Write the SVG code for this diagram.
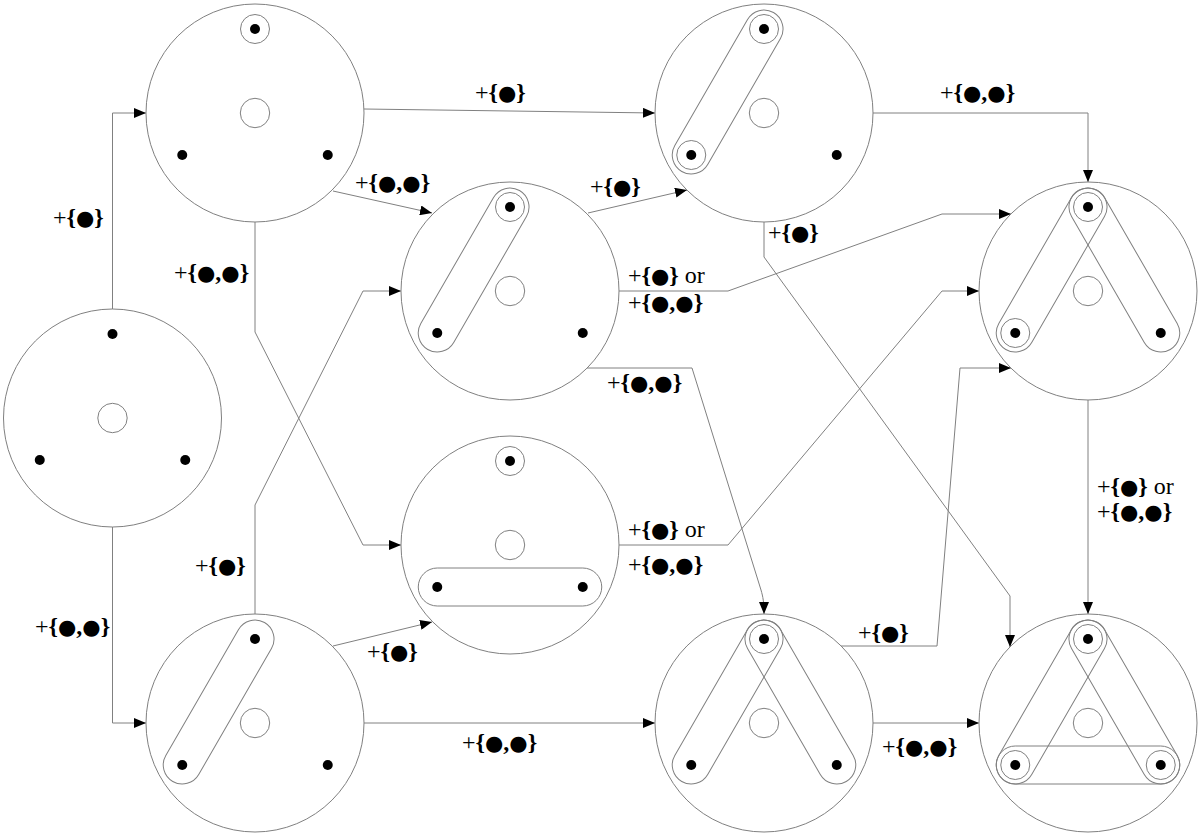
<svg xmlns="http://www.w3.org/2000/svg" xmlns:xlink="http://www.w3.org/1999/xlink" width="1200" height="836" viewBox="0 0 1200 836">
<style>
.n{fill:none;stroke:#808080;stroke-width:1}
.dot{fill:#000}
.c{fill:none;stroke:#808080;stroke-width:1;marker-end:url(#ah)}
.lb{font-family:"Liberation Serif",serif;font-size:24px;fill:#000}
.b{font-weight:bold}
.d{font-family:"DejaVu Sans",sans-serif;font-size:21px}
</style>
<defs>
<marker id="ah" viewBox="0 0 12 10" refX="12" refY="5" markerWidth="12" markerHeight="10" markerUnits="userSpaceOnUse" orient="auto"><path d="M0,0 L12,5 L0,10 z" fill="#000"/></marker>
<g id="base">
<circle class="n" r="109"/>
<circle class="n" r="14.7"/>
<circle class="dot" cx="0" cy="-84" r="5"/>
<circle class="dot" cx="-72.75" cy="42" r="5"/>
<circle class="dot" cx="72.75" cy="42" r="5"/>
</g>
<circle id="ringT" class="n" cx="0" cy="-84" r="14.5"/>
<circle id="ringL" class="n" cx="-72.75" cy="42" r="14.5"/>
<circle id="ringR" class="n" cx="72.75" cy="42" r="14.5"/>
<rect id="capLT" class="n" x="-91.75" y="-19" width="183.5" height="38" rx="19" transform="translate(-36.37,-21) rotate(-60)"/>
<rect id="capTR" class="n" x="-91.75" y="-19" width="183.5" height="38" rx="19" transform="translate(36.37,-21) rotate(60)"/>
<rect id="capLR" class="n" x="-91.75" y="-19" width="183.5" height="38" rx="19" transform="translate(0,42)"/>
</defs>
<rect width="1200" height="836" fill="#fff"/>

<g id="connectors">
<path class="c" d="M112.5,309 V113 H146"/>
<path class="c" d="M112.5,527 V723 H146"/>
<path class="c" d="M364,109 L655,113"/>
<path class="c" d="M333,191 L432,213"/>
<path class="c" d="M255,222 V332 L363,545 H401"/>
<path class="c" d="M255,614 V505 L363,291 H401"/>
<path class="c" d="M333,646 L432,622"/>
<path class="c" d="M364,723 H655"/>
<path class="c" d="M588,213 L687,190"/>
<path class="c" d="M619,291 H728 L942,214 H1011"/>
<path class="c" d="M587,368 H692 L761,590 C763,597 764,602 764,614"/>
<path class="c" d="M619,545 H728 L942,291 H979"/>
<path class="c" d="M873,113 H1088 V182"/>
<path class="c" d="M764,222 V257 L1010,596 V647"/>
<path class="c" d="M841,646 H937 L960,368 H1011"/>
<path class="c" d="M873,723 H979"/>
<path class="c" d="M1088,400 V614"/>
</g>

<g id="labels">
<text class="lb" x="53" y="225">+<tspan class="b">{</tspan><tspan class="d">●</tspan><tspan class="b">}</tspan></text>
<text class="lb" x="35" y="634">+<tspan class="b">{</tspan><tspan class="d">●</tspan><tspan class="b">,</tspan><tspan class="d">●</tspan><tspan class="b">}</tspan></text>
<text class="lb" x="475" y="100">+<tspan class="b">{</tspan><tspan class="d">●</tspan><tspan class="b">}</tspan></text>
<text class="lb" x="355" y="190">+<tspan class="b">{</tspan><tspan class="d">●</tspan><tspan class="b">,</tspan><tspan class="d">●</tspan><tspan class="b">}</tspan></text>
<text class="lb" x="174" y="280">+<tspan class="b">{</tspan><tspan class="d">●</tspan><tspan class="b">,</tspan><tspan class="d">●</tspan><tspan class="b">}</tspan></text>
<text class="lb" x="195" y="573">+<tspan class="b">{</tspan><tspan class="d">●</tspan><tspan class="b">}</tspan></text>
<text class="lb" x="367" y="659">+<tspan class="b">{</tspan><tspan class="d">●</tspan><tspan class="b">}</tspan></text>
<text class="lb" x="462" y="750">+<tspan class="b">{</tspan><tspan class="d">●</tspan><tspan class="b">,</tspan><tspan class="d">●</tspan><tspan class="b">}</tspan></text>
<text class="lb" x="590" y="194">+<tspan class="b">{</tspan><tspan class="d">●</tspan><tspan class="b">}</tspan></text>
<text class="lb" x="628" y="283">+<tspan class="b">{</tspan><tspan class="d">●</tspan><tspan class="b">}</tspan> or</text>
<text class="lb" x="628" y="310">+<tspan class="b">{</tspan><tspan class="d">●</tspan><tspan class="b">,</tspan><tspan class="d">●</tspan><tspan class="b">}</tspan></text>
<text class="lb" x="607" y="390">+<tspan class="b">{</tspan><tspan class="d">●</tspan><tspan class="b">,</tspan><tspan class="d">●</tspan><tspan class="b">}</tspan></text>
<text class="lb" x="628" y="537">+<tspan class="b">{</tspan><tspan class="d">●</tspan><tspan class="b">}</tspan> or</text>
<text class="lb" x="628" y="572">+<tspan class="b">{</tspan><tspan class="d">●</tspan><tspan class="b">,</tspan><tspan class="d">●</tspan><tspan class="b">}</tspan></text>
<text class="lb" x="940" y="100">+<tspan class="b">{</tspan><tspan class="d">●</tspan><tspan class="b">,</tspan><tspan class="d">●</tspan><tspan class="b">}</tspan></text>
<text class="lb" x="768" y="240">+<tspan class="b">{</tspan><tspan class="d">●</tspan><tspan class="b">}</tspan></text>
<text class="lb" x="858" y="640">+<tspan class="b">{</tspan><tspan class="d">●</tspan><tspan class="b">}</tspan></text>
<text class="lb" x="882" y="754">+<tspan class="b">{</tspan><tspan class="d">●</tspan><tspan class="b">,</tspan><tspan class="d">●</tspan><tspan class="b">}</tspan></text>
<text class="lb" x="1097" y="494">+<tspan class="b">{</tspan><tspan class="d">●</tspan><tspan class="b">}</tspan> or</text>
<text class="lb" x="1097" y="519">+<tspan class="b">{</tspan><tspan class="d">●</tspan><tspan class="b">,</tspan><tspan class="d">●</tspan><tspan class="b">}</tspan></text>
</g>

<g id="node-A" transform="translate(112.5,418)"><use xlink:href="#base"/></g>
<g id="node-B" transform="translate(255,113)"><use xlink:href="#base"/><use xlink:href="#ringT"/></g>
<g id="node-C" transform="translate(255,723)"><use xlink:href="#base"/><use xlink:href="#capLT"/></g>
<g id="node-D" transform="translate(510,291)"><use xlink:href="#base"/><use xlink:href="#capLT"/><use xlink:href="#ringT"/></g>
<g id="node-E" transform="translate(510,545)"><use xlink:href="#base"/><use xlink:href="#ringT"/><use xlink:href="#capLR"/></g>
<g id="node-F" transform="translate(764,113)"><use xlink:href="#base"/><use xlink:href="#capLT"/><use xlink:href="#ringT"/><use xlink:href="#ringL"/></g>
<g id="node-G" transform="translate(764,723)"><use xlink:href="#base"/><use xlink:href="#capLT"/><use xlink:href="#capTR"/><use xlink:href="#ringT"/></g>
<g id="node-H" transform="translate(1088,291)"><use xlink:href="#base"/><use xlink:href="#capLT"/><use xlink:href="#capTR"/><use xlink:href="#ringT"/><use xlink:href="#ringL"/></g>
<g id="node-I" transform="translate(1088,723)"><use xlink:href="#base"/><use xlink:href="#capLT"/><use xlink:href="#capTR"/><use xlink:href="#capLR"/><use xlink:href="#ringT"/><use xlink:href="#ringL"/><use xlink:href="#ringR"/></g>
</svg>
